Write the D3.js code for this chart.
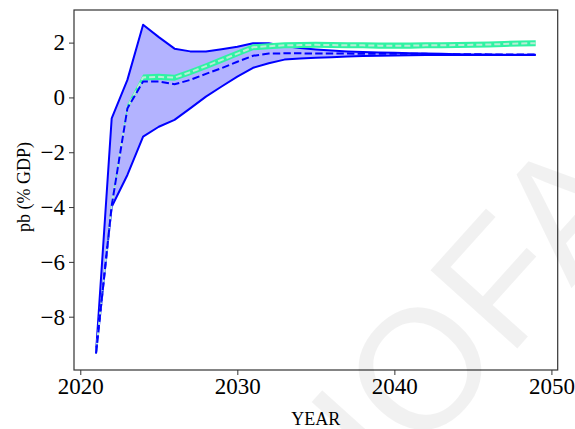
<!DOCTYPE html>
<html>
<head>
<meta charset="utf-8">
<script src="https://cdn.jsdelivr.net/npm/d3@7"></script>
<style>
  html, body { margin: 0; padding: 0; background: #fff; }
  svg { display: block; }
  text { font-family: "Liberation Serif", "Times New Roman", serif; fill: #000; }
</style>
</head>
<body>
<svg id="chart" width="575" height="429"></svg>
<script>
// Projection years
const years = d3.range(2021, 2050);

// Primary balance (% of GDP): full simulation range
const upperBound = [-9.34, -0.76, 0.64, 2.65, 2.20, 1.78, 1.68, 1.68, 1.76, 1.85,
  1.98, 1.98, 1.88, 1.80, 1.75, 1.71, 1.68, 1.66, 1.64, 1.63,
  1.61, 1.60, 1.59, 1.58, 1.57, 1.57, 1.56, 1.56, 1.56];
const lowerBound = [-9.34, -3.99, -2.83, -1.43, -1.07, -0.82, -0.40, 0.03, 0.40, 0.76,
  1.08, 1.25, 1.38, 1.42, 1.45, 1.47, 1.49, 1.51, 1.52, 1.53,
  1.54, 1.55, 1.55, 1.55, 1.55, 1.55, 1.55, 1.55, 1.55];
// Median path
const medianPath = [-9.34, -3.95, -0.40, 0.58, 0.58, 0.48, 0.64, 0.86, 1.07, 1.30,
  1.52, 1.60, 1.61, 1.61, 1.60, 1.60, 1.60, 1.59, 1.59, 1.59,
  1.59, 1.59, 1.58, 1.58, 1.58, 1.57, 1.57, 1.57, 1.57];
// Baseline path and its narrow band
const baselinePath = [-9.34, -3.90, -0.35, 0.73, 0.75, 0.72, 0.92, 1.14, 1.37, 1.60,
  1.83, 1.87, 1.90, 1.91, 1.92, 1.91, 1.90, 1.90, 1.89, 1.89,
  1.89, 1.90, 1.90, 1.91, 1.92, 1.93, 1.95, 1.97, 1.98];
const baselineSpread = [0.02, 0.08, 0.10, 0.11, 0.11, 0.11, 0.11, 0.11, 0.11, 0.11,
  0.11, 0.11, 0.11, 0.11, 0.11, 0.11, 0.11, 0.11, 0.11, 0.11,
  0.11, 0.11, 0.11, 0.11, 0.11, 0.11, 0.11, 0.11, 0.11];

const xTicks = [2020, 2030, 2040, 2050];
const yTicks = [-8, -6, -4, -2, 0, 2];
const xLabel = "YEAR";
const yLabel = "pb (% GDP)";

const svg = d3.select("#chart");
const m = { left: 74, right: 557.7, top: 10, bottom: 370 };

const x = d3.scaleLinear().domain([2019.6, 2050.4]).range([m.left, m.right]);
const y = d3.scaleLinear().domain([-9.945, 3.19]).range([m.bottom, m.top]);

const rows = years.map((yr, i) => ({
  yr, hi: upperBound[i], lo: lowerBound[i], med: medianPath[i],
  base: baselinePath[i], spread: baselineSpread[i]
}));

const plot = svg.append("g");

// full range band
plot.append("path")
  .datum(rows)
  .attr("fill", "#b3b3ff")
  .attr("d", d3.area().x(d => x(d.yr)).y0(d => y(d.lo)).y1(d => y(d.hi)));

const line = acc => d3.line().x(d => x(d.yr)).y(d => y(acc(d)));

plot.append("path").datum(rows)
  .attr("fill", "none").attr("stroke", "#0000ff").attr("stroke-width", 2)
  .attr("stroke-linejoin", "round")
  .attr("d", line(d => d.hi));
plot.append("path").datum(rows)
  .attr("fill", "none").attr("stroke", "#0000ff").attr("stroke-width", 2)
  .attr("stroke-linejoin", "round")
  .attr("d", line(d => d.lo));

// baseline band
plot.append("path")
  .datum(rows)
  .attr("fill", "#2ff3a3")
  .attr("d", d3.area().x(d => x(d.yr)).y0(d => y(d.base - d.spread)).y1(d => y(d.base + d.spread)));

plot.append("path").datum(rows)
  .attr("fill", "none").attr("stroke", "#b9ecd6").attr("stroke-width", 2)
  .attr("stroke-dasharray", "6,3")
  .attr("d", line(d => d.base));

// median
plot.append("path").datum(rows)
  .attr("fill", "none").attr("stroke", "#0000ff").attr("stroke-width", 2)
  .attr("stroke-dasharray", "7.4,3.2")
  .attr("d", line(d => d.med));

// axes
const fmt = v => (v < 0 ? "\u2212" + Math.abs(v) : String(v));

const gx = svg.append("g")
  .attr("transform", `translate(0,${m.bottom})`)
  .call(d3.axisBottom(x).tickValues(xTicks).tickFormat(d3.format("d")).tickSize(5).tickPadding(3).tickSizeOuter(0));
const gy = svg.append("g")
  .attr("transform", `translate(${m.left},0)`)
  .call(d3.axisLeft(y).tickValues(yTicks).tickFormat(fmt).tickSize(5).tickPadding(4).tickSizeOuter(0));

[gx, gy].forEach(g => {
  g.select(".domain").remove();
  g.selectAll(".tick line").attr("stroke", "#333").attr("stroke-width", 1);
  g.selectAll(".tick text")
    .attr("font-family", "Liberation Serif, serif")
    .attr("font-size", 23)
    .attr("fill", "#000");
});

// frame
svg.append("rect")
  .attr("x", m.left).attr("y", m.top)
  .attr("width", m.right - m.left).attr("height", m.bottom - m.top)
  .attr("fill", "none").attr("stroke", "#333").attr("stroke-width", 1.2);

// axis titles
svg.append("text")
  .attr("x", (m.left + m.right) / 2).attr("y", 425)
  .attr("text-anchor", "middle").attr("font-size", 18)
  .text(xLabel);
svg.append("text")
  .attr("transform", `translate(30,${(m.top + m.bottom) / 2 - 3}) rotate(-90)`)
  .attr("text-anchor", "middle").attr("font-size", 18)
  .text(yLabel);

// faint watermark
svg.append("text")
  .attr("transform", "translate(388,492) rotate(-48)")
  .style("font-family", "'Liberation Sans', Arial, sans-serif")
  .attr("font-size", 170)
  .style("fill", "#000")
  .style("fill-opacity", 0.055)
  .text("IOFA");
</script>
</body>
</html>
